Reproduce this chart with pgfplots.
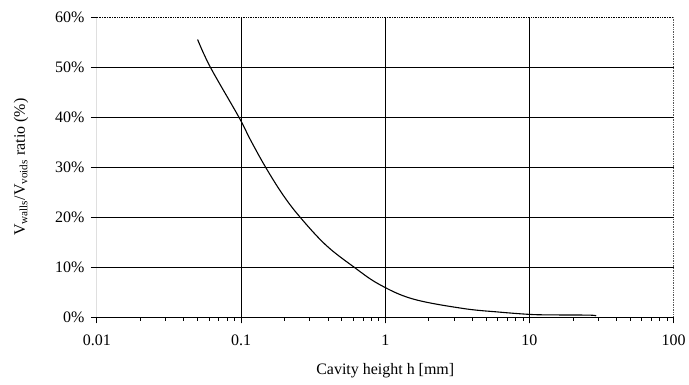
\documentclass[border=0pt]{standalone}
\usepackage{fontspec}
\setmainfont{Liberation Serif}
\usepackage{pgfplots}
\pgfplotsset{compat=1.18}
\begin{document}
\begin{tikzpicture}
\begin{semilogxaxis}[
  name=ax,
  scale only axis,
  width=578pt, height=301pt,
  xmin=0.01, xmax=100, ymin=0, ymax=60,
  xtick={0.01,0.1,1,10,100},
  xticklabels={0.01,0.1,1,10,100},
  ytick={0,10,20,30,40,50,60},
  yticklabels={0\%,10\%,20\%,30\%,40\%,50\%,60\%},
  tick pos=left,
  tick align=outside,
  major tick length=6pt,
  minor tick length=3.5pt,
  every tick/.style={black, line width=0.7pt},
  axis line style={draw=none},
  extra x ticks={0.1,1,10},
  extra x tick labels={},
  extra x tick style={grid=major, major tick length=6pt},
  extra y ticks={10,20,30,40,50},
  extra y tick labels={},
  extra y tick style={grid=major, major tick length=6pt},
  major grid style={black, line width=0.8pt},
  font=\fontsize{16}{18}\selectfont,
  xticklabel style={yshift=-8pt},
  yticklabel style={xshift=-3pt},
  xlabel={Cavity height h [mm]},
  ylabel={V\textsubscript{walls}/V\textsubscript{voids} ratio (\%)},
  xlabel style={yshift=1pt},
  ylabel style={yshift=8pt},
]
\addplot[black, line width=1.1pt, no marks, smooth, tension=0.6] coordinates {
(0.05,55.5) (0.0612,50) (0.0966,40) (0.116,35.5) (0.148,30) (0.195,24.5)
(0.257,20) (0.389,14.4) (0.61,10) (0.908,6.6) (1.545,3.7) (3.43,1.8)
(6.15,1.06) (10,0.6) (13.6,0.5) (25.8,0.45) (29,0.3)
};
\draw[black, line width=0.8pt] (rel axis cs:0,1) -- (rel axis cs:0,0) -- (rel axis cs:1,0);
\draw[black, line width=0.7pt, densely dotted] (rel axis cs:0,1) -- (rel axis cs:1,1) -- (rel axis cs:1,0);
\end{semilogxaxis}
\path ([xshift=-97pt,yshift=-67pt]ax.south west) rectangle ([xshift=14pt,yshift=17pt]ax.north east);
\end{tikzpicture}
\end{document}
